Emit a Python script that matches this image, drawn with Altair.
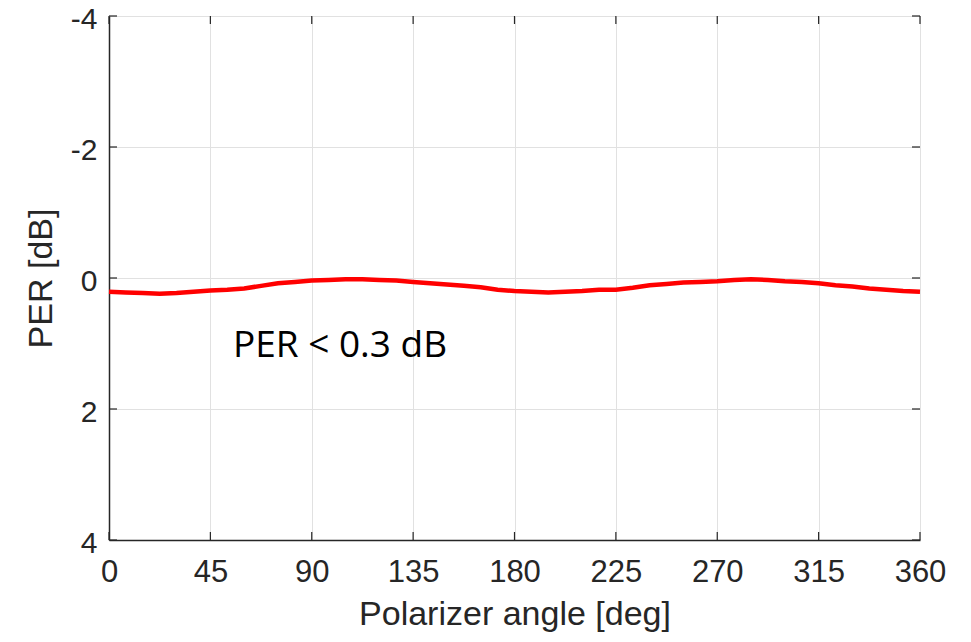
import altair as alt
import pandas as pd

angles = [0, 7.5, 15, 22.5, 30, 37.5, 45, 52.5, 60, 67.5, 75, 82.5, 90, 97.5, 105,
          112.5, 120, 127.5, 135, 142.5, 150, 157.5, 165, 172.5, 180, 187.5, 195,
          202.5, 210, 217.5, 225, 232.5, 240, 247.5, 255, 262.5, 270, 277.5, 285,
          292.5, 300, 307.5, 315, 322.5, 330, 337.5, 345, 352.5, 360]
per_db = [0.21, 0.22, 0.23, 0.24, 0.23, 0.21, 0.19, 0.18, 0.16, 0.12, 0.08, 0.06,
          0.04, 0.03, 0.02, 0.02, 0.03, 0.04, 0.06, 0.08, 0.10, 0.12, 0.14, 0.18,
          0.20, 0.21, 0.22, 0.21, 0.20, 0.18, 0.18, 0.15, 0.11, 0.09, 0.07, 0.06,
          0.05, 0.03, 0.02, 0.03, 0.05, 0.06, 0.08, 0.11, 0.13, 0.16, 0.18, 0.20, 0.21]

x_ticks = [0, 45, 90, 135, 180, 225, 270, 315, 360]
y_ticks = [-4, -2, 0, 2, 4]

note_text = ["PER < 0.3 dB"]
note_x = [55]
note_y = [1.2]

W, H = 811, 524
TICK = 8
DARK = "#262626"

df = pd.DataFrame({"angle": angles, "per": per_db})
xt = pd.DataFrame({"v": x_ticks})
yt = pd.DataFrame({"v": y_ticks})
note = pd.DataFrame({"t": note_text, "x": note_x, "y": note_y})

xscale = alt.Scale(domain=[0, 360], nice=False, zero=False)
yscale = alt.Scale(domain=[-4, 4], nice=False, zero=False, reverse=True)

line = alt.Chart(df).mark_line(color="#ff0000", strokeWidth=4.5).encode(
    x=alt.X("angle:Q", scale=xscale,
            axis=alt.Axis(values=x_ticks, title="Polarizer angle [deg]",
                          grid=True, gridColor="#e1e1e1", gridWidth=1,
                          tickSize=0, labelPadding=17, labelFontSize=31,
                          labelColor=DARK, labelFont="Liberation Sans",
                          titleFont="Liberation Sans", titleFontSize=34,
                          titleFontWeight="normal", titleColor=DARK,
                          titlePadding=10, domainColor=DARK, domainWidth=1.5,
                          labelFlush=False)),
    y=alt.Y("per:Q", scale=yscale,
            axis=alt.Axis(values=y_ticks, title="PER [dB]",
                          grid=True, gridColor="#e1e1e1", gridWidth=1,
                          tickSize=0, labelPadding=12, labelFontSize=30,
                          labelOffset=3,
                          labelColor=DARK, labelFont="Liberation Sans",
                          labelExpr="'' + datum.value",
                          titleFont="Liberation Sans", titleFontSize=34,
                          titleFontWeight="normal", titleColor=DARK,
                          titlePadding=12, domainColor=DARK, domainWidth=1.5,
                          labelFlush=False)),
)

tick_style = dict(color=DARK, strokeWidth=1.2)
xb = alt.Chart(xt).mark_rule(**tick_style).encode(
    x=alt.X("v:Q", scale=xscale), y=alt.value(H), y2=alt.value(H - TICK))
xtop = alt.Chart(xt).mark_rule(**tick_style).encode(
    x=alt.X("v:Q", scale=xscale), y=alt.value(0), y2=alt.value(TICK))
yl = alt.Chart(yt).mark_rule(**tick_style).encode(
    y=alt.Y("v:Q", scale=yscale), x=alt.value(0), x2=alt.value(TICK))
yr = alt.Chart(yt).mark_rule(**tick_style).encode(
    y=alt.Y("v:Q", scale=yscale), x=alt.value(W), x2=alt.value(W - TICK))

text = alt.Chart(note).mark_text(align="left", baseline="alphabetic",
                                 font="Open Sans", fontSize=37, color="#000000").encode(
    x=alt.X("x:Q", scale=xscale), y=alt.Y("y:Q", scale=yscale), text="t:N")

chart = alt.layer(line, xb, xtop, yl, yr, text).properties(
    width=W, height=H,
    autosize=alt.AutoSizeParams(type="none"),
    padding={"left": 109, "top": 16, "right": 51, "bottom": 102},
).configure_view(stroke=DARK, strokeWidth=1.5).configure(background="white")

chart.save("out.html", embed_options={"renderer": "svg", "actions": False})
